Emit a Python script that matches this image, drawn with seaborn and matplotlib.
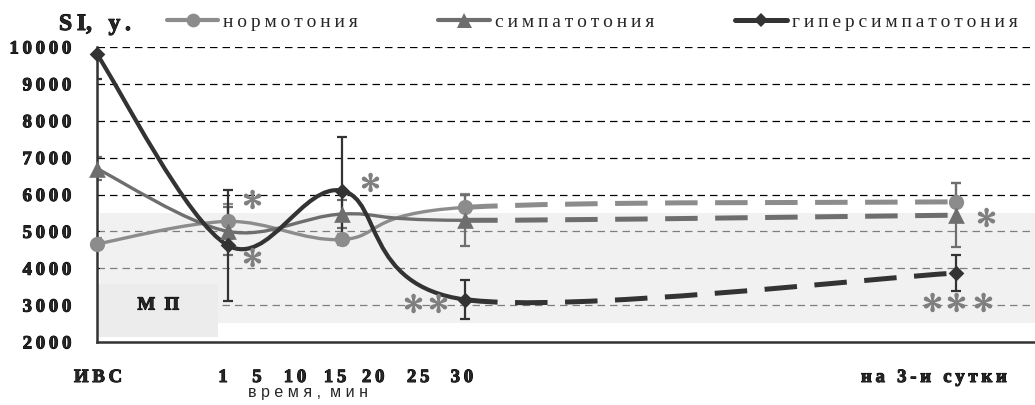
import numpy as np
import matplotlib
matplotlib.use("Agg")
import matplotlib.pyplot as plt
import matplotlib.transforms as mtransforms
import matplotlib.patheffects as pe
import seaborn as sns
from matplotlib.path import Path
from matplotlib.patches import PathPatch, Rectangle
from matplotlib.lines import Line2D

# positions on the tick scale: ИВС, 1 min, 15 min, 30 min, day 3
x_pos = [0, 3.2, 6, 9, 21]

normo = [4660, 5270, 4780, 5650, 5800]
normo_err = [150, 480, 150, 360, 520]
sympa = [6700, 5000, 5470, 5300, 5440]
sympa_err = [310, 650, 370, 700, 870]
hyper = [9800, 4620, 6100, 3150, 3870]
hyper_err = [680, 1500, 1450, 530, 490]

series_names = ["нормотония", "симпатотония", "гиперсимпатотония"]
y_ticks = [2000, 3000, 4000, 5000, 6000, 7000, 8000, 9000, 10000]

time_labels = ["1", "5", "10", "15", "20", "25", "30"]
time_label_x = [3.08, 3.91, 4.84, 5.82, 6.75, 7.85, 8.92]

# significance marks
star_x = [3.78, 3.78, 6.68, 7.73, 8.34, 21.72, 20.4, 21.0, 21.67]
star_y = [5870, 4310, 6340, 3060, 3060, 5400, 3090, 3090, 3090]

# reference band (МП)
band_low, band_high = 2520, 5500

colors = ["#8c8c8c", "#6e6e6e", "#333333"]
markers = ["o", "^", "D"]
msizes = [11, 12, 8]
lws = [2.4, 2.4, 3.0]

sns.set_style("white")
plt.rcParams["font.family"] = ["Liberation Serif", "DejaVu Sans"]
plt.rcParams["mathtext.fontset"] = "stix"

heavy = [pe.withStroke(linewidth=0.7, foreground="black")]


def spaced(s):
    return "\u2009".join(s)


def smooth_segments(xs, ys):
    pts = np.column_stack([xs, ys]).astype(float)
    n = len(pts)
    segs = []
    for i in range(n - 1):
        p0 = pts[max(i - 1, 0)]
        p1 = pts[i]
        p2 = pts[i + 1]
        p3 = pts[min(i + 2, n - 1)]
        c1 = p1 + (p2 - p0) / 6
        c2 = p2 - (p3 - p1) / 6
        segs.append((p1, c1, c2, p2))
    return segs


def seg_path(segs):
    verts = [segs[0][0]]
    codes = [Path.MOVETO]
    for _, c1, c2, p in segs:
        verts += [c1, c2, p]
        codes += [Path.CURVE4] * 3
    return Path(verts, codes)


fig = plt.figure(figsize=(10.35, 4.05), dpi=100)
ax = fig.add_axes([97 / 1035, 1 - 342 / 405, 1 - 97 / 1035, (342 - 47) / 405])

ax.set_xlim(0, 22.93)
ax.set_ylim(2000, 10000)

# grid
for v in y_ticks[1:]:
    ax.axhline(v, color="black", lw=0.9, ls=(0, (6, 4)), zorder=0.5)

ax.add_patch(Rectangle((0.07, band_low), 23, band_high - band_low,
                       facecolor="#e6e6e6", alpha=0.55, edgecolor="none", zorder=1))
ax.add_patch(Rectangle((0.02, 2135), 2.94, 1435,
                       facecolor="#ececec", edgecolor="none", zorder=1.2))
ax.text(1.5, 3000, "М  П", fontsize=13.5, fontweight="bold", ha="center", va="center",
        zorder=1.3, path_effects=heavy)

series = [(normo, normo_err), (sympa, sympa_err), (hyper, hyper_err)]
for (vals, errs), c, m, ms, lw in zip(series, colors, markers, msizes, lws):
    segs = smooth_segments(x_pos, vals)
    ax.add_patch(PathPatch(seg_path(segs[:3]), fill=False, edgecolor=c, lw=lw,
                           capstyle="round", joinstyle="round", zorder=3, clip_on=False))
    ax.add_patch(PathPatch(seg_path(segs[3:]), fill=False, edgecolor=c, lw=3.6,
                           ls=(0, (6.5, 3.5)), capstyle="butt", zorder=3))
    ax.errorbar(x_pos, vals, yerr=errs, fmt="none", ecolor=c, elinewidth=1.6,
                capsize=3.3, capthick=1.6, zorder=2.5)
    sns.scatterplot(x=x_pos, y=vals, marker=m, s=ms ** 2, color=c,
                    edgecolor=c, linewidth=0, ax=ax, zorder=4, clip_on=False)

ax.plot(star_x, star_y, ls="none", marker=r"$\ast$", ms=13, color="#7f7f7f", zorder=5)

# axes styling
for side in ["top", "right"]:
    ax.spines[side].set_visible(False)
for side in ["left", "bottom"]:
    ax.spines[side].set_color("#333333")
    ax.spines[side].set_linewidth(1.8)
ax.set_xticks(range(23))
ax.set_xticklabels([])
ax.set_yticks(y_ticks)
ax.set_yticklabels([spaced(str(v)) for v in y_ticks], fontsize=13.5, fontweight="bold")
for t in ax.get_yticklabels():
    t.set_path_effects(heavy)
ax.tick_params(axis="y", direction="out", length=6.5, width=1.5, color="#333333", pad=12)
ax.tick_params(axis="x", direction="out", length=4.3, width=1.5, color="#333333")
ax.grid(False)

# x labels
tr = mtransforms.blended_transform_factory(ax.transData, fig.transFigure)
yb = 1 - 382 / 405
fig.text(98 / 1035, yb, spaced("ИВС"), fontsize=13.5, fontweight="bold", ha="center",
         va="baseline", path_effects=heavy)
for lab, xv in zip(time_labels, time_label_x):
    ax.text(xv, yb, spaced(lab), transform=tr, fontsize=13.5, fontweight="bold",
            ha="center", va="baseline", clip_on=False, path_effects=heavy)
fig.text(934 / 1035, yb, spaced("на 3-и сутки"), fontsize=13.5, fontweight="bold",
         ha="center", va="baseline", path_effects=heavy)
fig.text(308 / 1035, 1 - 397 / 405, " ".join("время,") + "  " + " ".join("мин"),
         fontsize=11.5, family="Liberation Sans", ha="center", va="baseline")

# title + legend
fig.text(59 / 1035, 1 - 30 / 405, "S\u2009I,\u2009  у\u2009.", fontsize=17, fontweight="bold",
         ha="left", va="baseline", path_effects=heavy)
leg_x = [(167, 218), (438, 490), (735, 787)]
ly = 1 - 20 / 405
for name, (x0, x1), c, m, ms, lw in zip(series_names, leg_x, colors, markers, msizes, lws):
    fig.add_artist(Line2D([x0 / 1035, x1 / 1035], [ly, ly], color=c, lw=lw + 0.6,
                          transform=fig.transFigure))
    fig.add_artist(Line2D([(x0 + x1) / 2070], [ly], color=c, marker=m, ms=ms * 0.9,
                          mew=0, transform=fig.transFigure))
    fig.text((x1 + 5) / 1035, 1 - 27 / 405, spaced(name), fontsize=14, ha="left", va="baseline")

fig.savefig("out.png", dpi=100)
